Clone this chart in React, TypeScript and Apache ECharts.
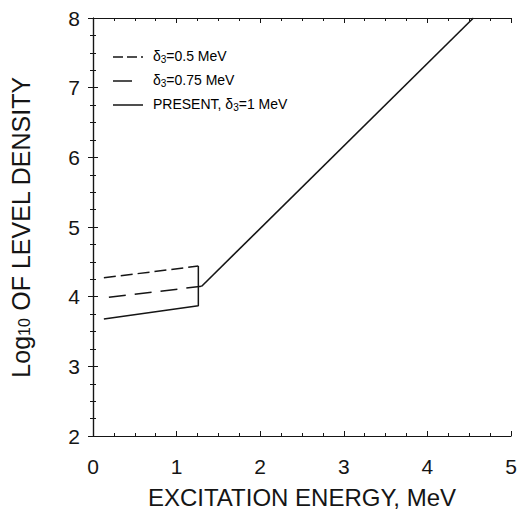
import React, { useEffect, useRef } from "react";
import * as echarts from "echarts";

// Data
const xTicks = [0, 1, 2, 3, 4, 5];
const yTicks = [2, 3, 4, 5, 6, 7, 8];

const d05X = [0.13, 1.26];
const d05Y = [4.27, 4.44];

const d075X = [0.19, 1.3];
const d075Y = [3.99, 4.15];

const presentX = [0.13, 1.26, 1.26];
const presentY = [3.68, 3.87, 4.44];

const sysX = [1.3, 4.55];
const sysY = [4.15, 8.0];

const legendNames = ["δ3=0.5 MeV", "δ3=0.75 MeV", "PRESENT, δ3=1 MeV"];

const zip = (xs: number[], ys: number[]) => xs.map((x, i) => [x, ys[i]]);

const INK = "#151515";
const FONT = "Liberation Sans, Arial, sans-serif";

export default function App() {
  const ref = useRef<HTMLDivElement>(null);

  useEffect(() => {
    if (!ref.current) return;
    const chart = echarts.init(ref.current, undefined, { renderer: "svg" });

    const subRich = (size: number, subSize: number, shift: number) => ({
      a: { fontFamily: FONT, fontSize: size, lineHeight: size, color: INK, verticalAlign: "top" },
      s: {
        fontFamily: FONT,
        fontSize: subSize,
        lineHeight: subSize,
        color: INK,
        verticalAlign: "top",
        padding: [shift, 0, 0, 0],
      },
    });

    const legendText = (name: string) => {
      const i = name.indexOf("δ3");
      const before = name.slice(0, i);
      const after = name.slice(i + 2);
      return (before ? `{a|${before}}` : "") + `{a|δ}{s|3}{a|${after}}`;
    };

    const legendRows = [
      { y: 57, dash: [10, 4] as number[] | null },
      { y: 81, dash: [19, 11] as number[] | null },
      { y: 105, dash: null },
    ];

    const graphic: any[] = [];
    legendRows.forEach((r, i) => {
      graphic.push({
        type: "line",
        shape: { x1: 113, y1: r.y, x2: 143, y2: r.y },
        style: { stroke: INK, lineWidth: 1.5, lineDash: r.dash || undefined },
      });
      graphic.push({
        type: "text",
        x: 153,
        y: r.y - 8,
        style: {
          text: legendText(legendNames[i]),
          rich: subRich(14, 10, 5),
        },
      });
    });

    const axisLine = { show: true, lineStyle: { color: INK, width: 1.2 } };

    chart.setOption({
      animation: false,
      backgroundColor: "#ffffff",
      grid: { left: 91, right: 12, top: 18, bottom: 73 },
      xAxis: [
        {
          type: "value",
          min: 0,
          max: 5,
          interval: 1,
          position: "bottom",
          axisLine,
          axisTick: { show: true, inside: true, length: 5, lineStyle: { color: INK } },
          minorTick: { show: true, splitNumber: 4, length: 3, lineStyle: { color: INK } },
          splitLine: { show: false },
          axisLabel: {
            margin: 20,
            fontSize: 21,
            fontFamily: FONT,
            color: INK,
            formatter: (v: number) => (xTicks.includes(v) ? String(v) : ""),
          },
          name: "EXCITATION ENERGY, MeV",
          nameLocation: "middle",
          nameGap: 49,
          nameTextStyle: { fontSize: 24, fontFamily: FONT, color: INK },
        },
        {
          type: "value",
          min: 0,
          max: 5,
          interval: 1,
          position: "top",
          axisLine,
          axisTick: { show: true, inside: true, length: 5, lineStyle: { color: INK } },
          minorTick: { show: true, splitNumber: 4, length: 3, lineStyle: { color: INK } },
          splitLine: { show: false },
          axisLabel: { show: false },
        },
      ],
      yAxis: [
        {
          type: "value",
          min: 2,
          max: 8,
          interval: 1,
          position: "left",
          axisLine,
          axisTick: { show: true, inside: true, length: 5, lineStyle: { color: INK } },
          minorTick: { show: true, splitNumber: 4, length: 3, lineStyle: { color: INK } },
          splitLine: { show: false },
          axisLabel: {
            margin: 13,
            fontSize: 21,
            fontFamily: FONT,
            color: INK,
            formatter: (v: number) => (yTicks.includes(v) ? String(v) : ""),
          },
          name: "{a|Log}{s|10}{a| OF LEVEL DENSITY}",
          nameLocation: "middle",
          nameGap: 60,
          nameTextStyle: { rich: subRich(25, 16, 8) },
        },
        {
          type: "value",
          min: 2,
          max: 8,
          interval: 1,
          position: "right",
          axisLine,
          axisTick: { show: true, inside: true, length: 5, lineStyle: { color: INK } },
          minorTick: { show: true, splitNumber: 4, length: 3, lineStyle: { color: INK } },
          splitLine: { show: false },
          axisLabel: { show: false },
        },
      ],
      series: [
        {
          name: legendNames[0],
          type: "line",
          data: zip(d05X, d05Y),
          showSymbol: false,
          symbol: "none",
          lineStyle: { color: INK, width: 1.5, type: [12, 5] },
        },
        {
          name: legendNames[1],
          type: "line",
          data: zip(d075X, d075Y),
          showSymbol: false,
          symbol: "none",
          lineStyle: { color: INK, width: 1.5, type: [17, 9] },
        },
        {
          name: legendNames[2],
          type: "line",
          data: zip(presentX, presentY),
          showSymbol: false,
          symbol: "none",
          lineStyle: { color: INK, width: 1.5, type: "solid" },
        },
        {
          name: "systematics",
          type: "line",
          data: zip(sysX, sysY),
          showSymbol: false,
          symbol: "none",
          lineStyle: { color: INK, width: 1.6, type: "solid" },
        },
      ],
      graphic,
    });

    return () => chart.dispose();
  }, []);

  return (
    <div
      ref={ref}
      style={{ position: "absolute", left: 0, top: 0, width: 523, height: 514 }}
    />
  );
}
